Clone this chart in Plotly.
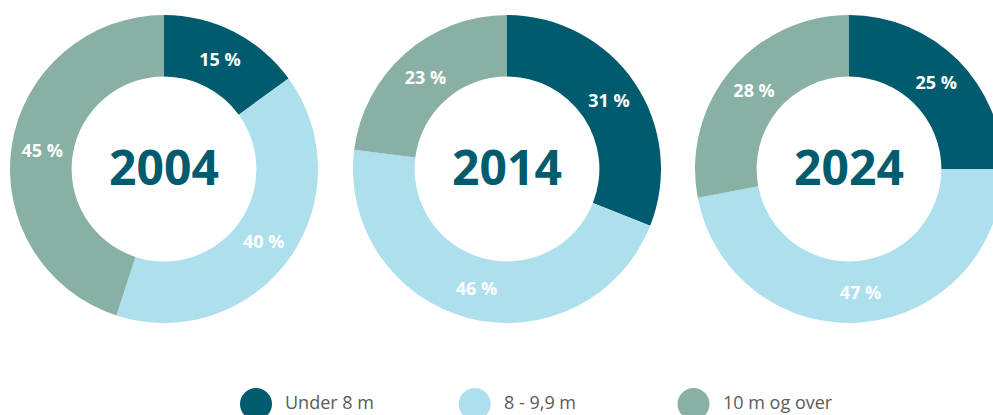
import plotly.graph_objects as go

years = ["2004", "2014", "2024"]
categories = ["Under 8 m", "8 - 9,9 m", "10 m og over"]
share_2004 = [15, 40, 45]
share_2014 = [31, 46, 23]
share_2024 = [25, 47, 28]
colors = ["#005B6E", "#ADDFEC", "#88B0A5"]

W, H = 1003, 415   # canvas slightly wider than the window so the last donut is clipped
R = 154
centers_x = [164, 507, 849]
center_y = H - 169

fig = go.Figure()
for yr, vals, cx in zip(years, [share_2004, share_2014, share_2024], centers_x):
    x0 = max(0, (cx - R) / W)
    x1 = min(1, (cx + R) / W)
    fig.add_trace(go.Pie(
        values=vals, labels=categories, sort=False, direction="clockwise", rotation=0,
        hole=0.6, marker=dict(colors=colors, line=dict(width=0)),
        texttemplate="%{value} %", textposition="inside", insidetextorientation="horizontal",
        textfont=dict(family="Open Sans", size=18, color="white", weight="bold"),
        title=dict(text=yr, position="middle center",
                   font=dict(family="Open Sans", size=48, color="#005B6E", weight="bold")),
        domain=dict(x=[x0, x1], y=[(center_y - R) / H, (center_y + R) / H]),
        showlegend=False, hoverinfo="label+value",
    ))

# custom legend with large circular markers
idx = list(range(len(categories)))
fig.add_trace(go.Scatter(
    x=idx, y=[0] * len(idx), mode="markers",
    marker=dict(size=32, color=colors, symbol="circle"),
    showlegend=False, hoverinfo="skip", cliponaxis=False,
    xaxis="x", yaxis="y",
))
for i, c in enumerate(categories):
    fig.add_annotation(x=i, y=0, xref="x", yref="y", text=c, showarrow=False,
                       xanchor="left", xshift=27, yshift=2,
                       font=dict(family="Open Sans", size=18, color="#5a5a5a"))

step = 218.75
first = 256
fig.update_layout(
    width=W, height=H, margin=dict(l=0, r=0, t=0, b=0),
    paper_bgcolor="white", plot_bgcolor="rgba(0,0,0,0)",
    xaxis=dict(domain=[0, 1], range=[-first / step, (W - first) / step],
               visible=False, fixedrange=True),
    yaxis=dict(domain=[0, 22 / H], range=[-1, 1], visible=False, fixedrange=True),
)

fig.write_html(
    "out.html",
    config={"displayModeBar": False},
    post_script="document.body.style.margin='0';document.body.style.overflow='hidden';"
                "document.documentElement.style.overflow='hidden';",
)
